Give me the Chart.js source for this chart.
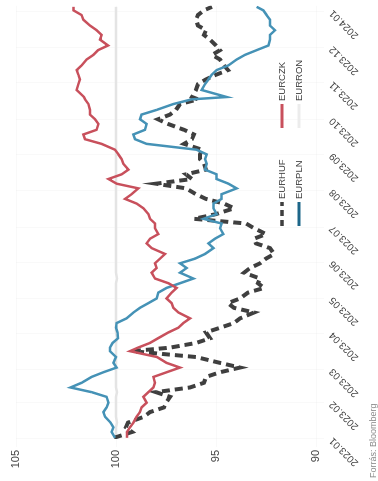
<!DOCTYPE html>
<html>
<head>
<meta charset="utf-8">
<script src="https://cdn.jsdelivr.net/npm/chart.js@4.4.1/dist/chart.umd.min.js"></script>
<style>
  html, body { margin: 0; padding: 0; background: #fff; overflow: hidden; }
  body { width: 378px; height: 481px; position: relative; }
  /* the chart is drawn landscape and turned a quarter to the left, like the reference */
  #wrap {
    position: absolute; left: 0; top: 0;
    width: 481px; height: 378px;
    transform-origin: 0 0;
    transform: translateY(481px) rotate(-90deg);
  }
</style>
</head>
<body>
<div id="wrap"><canvas id="fxChart" width="481" height="378"></canvas></div>
<script>
// sample dates
const dates = [
  '2023-01-02','2023-01-07','2023-01-11','2023-01-15','2023-01-20','2023-01-24','2023-01-28',
  '2023-02-01','2023-02-06','2023-02-10','2023-02-14','2023-02-18','2023-02-23','2023-02-27',
  '2023-03-03','2023-03-07','2023-03-12','2023-03-17','2023-03-20','2023-03-24','2023-03-28',
  '2023-04-02','2023-04-06','2023-04-10','2023-04-14','2023-04-19','2023-04-23','2023-04-27',
  '2023-05-01','2023-05-06','2023-05-10','2023-05-14','2023-05-18','2023-05-23','2023-05-27','2023-05-31',
  '2023-06-04','2023-06-08','2023-06-13','2023-06-17','2023-06-21','2023-06-25','2023-06-30',
  '2023-07-04','2023-07-08','2023-07-12','2023-07-17','2023-07-21','2023-07-25','2023-07-29',
  '2023-08-03','2023-08-07','2023-08-11','2023-08-15','2023-08-19','2023-08-24','2023-08-28',
  '2023-09-01','2023-09-05','2023-09-10','2023-09-14','2023-09-18','2023-09-22','2023-09-27',
  '2023-10-01','2023-10-05','2023-10-09','2023-10-14','2023-10-18','2023-10-20','2023-10-26','2023-10-31',
  '2023-11-04','2023-11-08','2023-11-12','2023-11-16','2023-11-21','2023-11-25','2023-11-29',
  '2023-12-03','2023-12-08','2023-12-12','2023-12-16','2023-12-20','2023-12-25','2023-12-29',
  '2024-01-02','2024-01-05'
];

const eurhuf = [
  100.1, 99.2, 99.5, 99.4, 98.6, 98.3, 97.6,
  97.5, 97.3, 98.0, 96.3, 95.6, 95.5, 94.8,
  93.8, 94.8, 96.0, 99.2, 97.3, 96.0, 95.3,
  95.5, 94.8, 94.1, 93.8, 93.1, 94.1, 94.4,
  93.8, 93.4, 92.6, 92.9, 92.8, 93.6, 93.3, 92.8,
  92.5, 92.1, 92.3, 93.0, 93.1, 92.5, 93.1,
  93.5, 96.1, 95.0, 94.1, 94.6, 95.5, 96.0,
  96.5, 98.0, 96.2, 96.5, 95.5, 95.6, 95.8,
  95.8, 95.7, 96.6, 96.2, 96.1, 96.6, 97.4,
  97.9, 97.3, 97.0, 96.8, 95.9, 96.2, 96.0, 95.9,
  95.5, 95.0, 94.4, 94.6, 94.8, 95.2, 94.8,
  95.0, 95.3, 95.6, 95.5, 95.9, 96.0, 95.9,
  95.6, 95.2
];

const eurczk = [
  99.45, 99.45, 99.3, 99.13, 98.97, 98.8, 98.72,
  98.47, 98.63, 98.38, 98.13, 98.05, 98.13, 97.47,
  96.8, 97.47, 97.95, 99.3, 98.9, 98.3, 97.9,
  97.38, 96.88, 96.63, 96.3, 96.88, 97.13, 97.22,
  97.47, 97.22, 96.97, 97.38, 98.05, 98.22, 97.97, 98.05,
  97.8, 97.55, 98.22, 98.47, 98.3, 97.88, 98.05,
  98.05, 98.3, 98.38, 98.63, 98.97, 99.55, 99.22,
  98.88, 99.97, 100.38, 99.72, 99.38, 99.63, 99.72,
  99.88, 100.05, 100.72, 101.55, 101.63, 100.97, 100.88,
  101.05, 101.3, 101.3, 101.38, 101.55, 101.6, 101.97, 101.88,
  101.8, 101.88, 101.97, 101.72, 101.47, 101.13, 100.9,
  100.4, 100.8, 100.72, 100.97, 101.3, 101.63, 101.72,
  102.13, 102.13
];

const eurpln = [
  100.05, 100.22, 100.13, 100.27, 100.55, 100.63, 100.47,
  100.38, 100.47, 101.22, 102.27, 101.72, 101.22, 100.63,
  99.97, 100.13, 100.0, 100.3, 100.3, 100.17, 99.9,
  99.93, 100.0, 99.97, 99.47, 99.13, 98.8, 98.38,
  97.97, 97.88, 97.47, 96.8, 96.13, 96.8, 96.47, 96.8,
  96.05, 95.55, 95.13, 95.38, 95.05, 94.63, 94.8,
  94.72, 95.63, 94.97, 95.13, 95.13, 94.72, 94.72,
  93.97, 94.38, 94.97, 94.97, 95.55, 95.47, 95.55,
  95.47, 95.97, 98.47, 99.05, 99.13, 98.55, 98.47,
  98.8, 98.72, 97.97, 97.13, 96.22, 94.47, 95.72, 95.55,
  95.38, 95.22, 94.97, 94.38, 93.97, 93.55, 92.97,
  92.38, 92.3, 92.3, 92.05, 92.3, 92.3, 92.47,
  92.63, 92.97
];

const eurron = [
  100.0, 100.0, 100.0, 99.95, 100.0, 100.0, 100.0,
  100.0, 100.0, 99.95, 100.0, 100.0, 100.0, 100.0,
  100.0, 100.0, 100.0, 100.0, 100.0, 100.0, 99.95,
  100.0, 100.0, 100.0, 100.0, 100.0, 100.0, 100.0,
  100.0, 100.0, 100.0, 100.0, 99.95, 100.0, 100.0, 100.0,
  100.0, 100.0, 100.0, 100.0, 100.0, 100.0, 100.0,
  100.0, 100.0, 100.0, 100.0, 100.0, 100.0, 100.0,
  100.0, 100.0, 100.0, 100.0, 100.0, 100.0, 100.0,
  100.0, 100.0, 100.0, 100.0, 100.0, 100.0, 100.0,
  100.0, 100.0, 100.0, 100.0, 100.0, 100.0, 100.0, 100.0,
  100.0, 100.0, 100.0, 100.0, 100.0, 100.0, 100.0,
  100.0, 100.0, 100.0, 100.0, 100.0, 100.0, 100.0,
  100.0, 100.0
];

// month ticks on the time axis
const tickDates = [
  '2023-01-01','2023-02-01','2023-03-01','2023-04-01','2023-05-01','2023-06-01','2023-07-01',
  '2023-08-01','2023-09-01','2023-10-01','2023-11-01','2023-12-01','2024-01-01'
];
const tickLabels = [
  '2023.01','2023.02','2023.03','2023.04','2023.05','2023.06','2023.07',
  '2023.08','2023.09','2023.10','2023.11','2023.12','2024.01'
];

const sourceText = 'Forrás: Bloomberg';

// days since 2023-01-01
function dayOf(s) {
  const [y, m, d] = s.split('-').map(Number);
  return (Date.UTC(y, m - 1, d) - Date.UTC(2023, 0, 1)) / 86400000;
}
const xDays = dates.map(dayOf);
const tickDays = tickDates.map(dayOf);
const toPoints = (vals) => vals.map((v, i) => ({ x: xDays[i], y: v }));

Chart.defaults.font.family = '"Liberation Sans", Arial, sans-serif';

// legend sits inside the plot, under the lines (two columns, two rows)
const legendItems = [
  { text: 'EURHUF', color: '#3f3f3f', width: 3.5, dash: [6, 4], col: 0, row: 0 },
  { text: 'EURCZK', color: '#c8505c', width: 3, dash: [], col: 1, row: 0 },
  { text: 'EURPLN', color: '#1d6689', width: 3, dash: [], col: 0, row: 1 },
  { text: 'EURRON', color: '#ececec', width: 3, dash: [], col: 1, row: 1 }
];

const overlayPlugin = {
  id: 'overlay',
  afterDraw(chart) {
    const { ctx, chartArea } = chart;
    const colX = [chartArea.left + 213, chartArea.left + 311];
    const rowY = [chartArea.bottom - 34, chartArea.bottom - 17];
    ctx.save();
    ctx.font = '9.5px "Liberation Sans", Arial, sans-serif';
    ctx.textBaseline = 'middle';
    legendItems.forEach((it) => {
      const x = colX[it.col];
      const y = rowY[it.row];
      ctx.beginPath();
      ctx.setLineDash(it.dash);
      ctx.strokeStyle = it.color;
      ctx.lineWidth = it.width;
      ctx.moveTo(x, y);
      ctx.lineTo(x + 24, y);
      ctx.stroke();
      ctx.setLineDash([]);
      ctx.fillStyle = '#404040';
      ctx.fillText(it.text, x + 27, y);
    });
    // source line
    ctx.font = '9px "Liberation Sans", Arial, sans-serif';
    ctx.fillStyle = '#8a8a8a';
    ctx.textBaseline = 'alphabetic';
    ctx.fillText(sourceText, 3, 376);
    ctx.restore();
  }
};

const ctx = document.getElementById('fxChart').getContext('2d');
window.fxChart = new Chart(ctx, {
  type: 'line',
  data: {
    datasets: [
      {
        label: 'EURCZK',
        data: toPoints(eurczk),
        borderColor: '#c8505c',
        borderWidth: 2.5,
        order: 0
      },
      {
        label: 'EURPLN',
        data: toPoints(eurpln),
        borderColor: '#4592b6',
        borderWidth: 2.5,
        order: 1
      },
      {
        label: 'EURHUF',
        data: toPoints(eurhuf),
        borderColor: '#3f3f3f',
        borderWidth: 4,
        borderDash: [8, 5],
        order: 2
      },
      {
        label: 'EURRON',
        data: toPoints(eurron),
        borderColor: '#e4e4e4',
        borderWidth: 2.5,
        order: 3
      }
    ]
  },
  options: {
    responsive: false,
    devicePixelRatio: 1,
    animation: false,
    elements: { point: { radius: 0 }, line: { tension: 0 } },
    layout: { padding: { top: 16, right: 2, bottom: 0, left: 0 } },
    scales: {
      x: {
        type: 'linear',
        min: 0,
        max: 370,
        afterBuildTicks: (scale) => {
          scale.ticks = tickDays.map((v) => ({ value: v }));
        },
        afterFit: (scale) => { scale.height = 62; },
        ticks: {
          autoSkip: false,
          minRotation: 45,
          maxRotation: 45,
          color: '#404040',
          font: { size: 10 },
          callback: (value, index) => tickLabels[index]
        },
        grid: { color: 'rgba(0,0,0,0.025)', tickLength: 8 },
        border: { display: false }
      },
      y: {
        min: 90,
        max: 105,
        afterFit: (scale) => { scale.width = 42; },
        ticks: { stepSize: 5, color: '#404040', font: { size: 11 } },
        grid: { color: 'rgba(0,0,0,0.025)', tickLength: 8 },
        border: { display: false }
      }
    },
    plugins: {
      legend: { display: false },
      tooltip: { enabled: false }
    }
  },
  plugins: [overlayPlugin]
});
</script>
</body>
</html>
